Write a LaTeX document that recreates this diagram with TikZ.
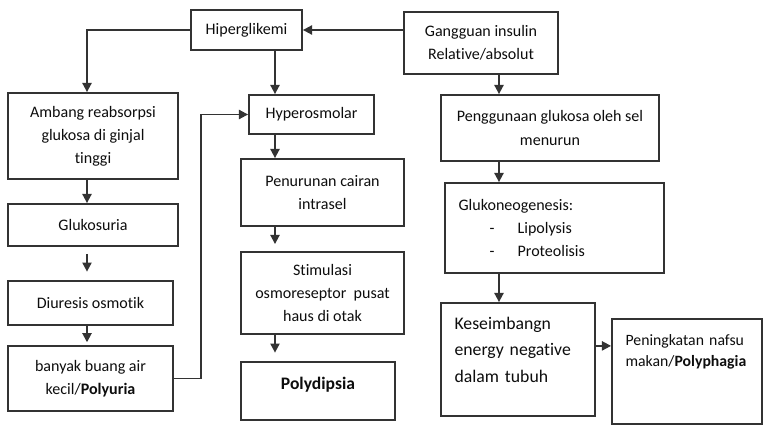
\documentclass[tikz,border=0pt]{standalone}
\usepackage{fontspec}
\setmainfont{Carlito}[RawFeature={-liga}]
\usepackage{xcolor}
\usetikzlibrary{
    arrows.meta,
    positioning
}

\begin{document}
\begin{tikzpicture}[
    font=\fontsize{11.4}{16.4}\selectfont,
    box/.style={
        rectangle,
        draw=black!80,
        line width=1.3pt,
        align=center,
        inner sep=2pt,
        text=black!95,
        fill=white
    },
    leftbox/.style={
        box,
        align=left,
        inner xsep=0.34cm
    },
    arrow/.style={
        -{Triangle[length=6.5pt,width=6.5pt]},
        line width=1.3pt,
        draw=black!80
    }
]

\useasboundingbox (0,0) rectangle (19.1,-10.625);

% =========================================================
% Top row
% =========================================================
\node[box, minimum width=2.775cm, minimum height=1.0cm] (hiper) at (6.1625,-0.75)
{Hiperglikemi};

\node[box, minimum width=3.85cm, minimum height=1.55cm] (gangguan) at (12.025,-1.075)
{Gangguan insulin\\Relative/absolut};

% =========================================================
% Left column: polyuria
% =========================================================
\node[box, minimum width=4.25cm, minimum height=2.15cm] (ambang) at (2.325,-3.4)
{Ambang reabsorpsi\\glukosa di ginjal\\tinggi};

\node[box, minimum width=4.25cm, minimum height=1.05cm] (glukosuria) at (2.325,-5.625)
{Glukosuria};

\node[box, minimum width=4.125cm, minimum height=1.1cm] (diuresis) at (2.2625,-7.575)
{Diuresis osmotik};

\node[box, minimum width=4.125cm, minimum height=1.625cm] (banyak) at (2.2625,-9.4625)
{banyak buang air\\kecil/\textbf{Polyuria}};

% =========================================================
% Middle column: polydipsia
% =========================================================
\node[box, minimum width=3.125cm, minimum height=0.975cm] (hyperos) at (7.7875,-2.8625)
{Hyperosmolar};

\node[box, minimum width=4.075cm, minimum height=1.675cm] (penurunan) at (8.0625,-4.8125)
{Penurunan cairan\\intrasel};

\node[box, minimum width=4.075cm, minimum height=2.05cm] (stimulasi) at (8.0625,-7.325)
{Stimulasi\\osmoreseptor\ \ pusat\\haus di otak};

\node[box, minimum width=3.85cm, minimum height=1.45cm,
      font=\fontsize{12.5}{16}\selectfont\bfseries] (polydipsia) at (7.95,-9.775)
{Polydipsia\rule[-11pt]{0pt}{11pt}};

% =========================================================
% Right column: polyphagia
% =========================================================
\node[box, minimum width=5.45cm, minimum height=1.65cm] (penggunaan) at (13.75,-3.2)
{Penggunaan glukosa oleh sel\\menurun};

\node[leftbox, text width=4.795cm, minimum height=2.25cm] (gluko) at (13.8625,-5.7)
{Glukoneogenesis:\\
 \makebox[42pt][l]{\hspace{22pt}-}Lipolysis\\
 \makebox[42pt][l]{\hspace{22pt}-}Proteolisis};

\node[leftbox, text width=3.17cm, minimum height=2.825cm,
      font=\fontsize{12.6}{19}\selectfont] (keseimb) at (12.95,-8.9875)
{Keseimbangn\\energy negative\\dalam tubuh\rule[-14pt]{0pt}{14pt}};

\node[leftbox, text width=3.07cm, minimum height=2.625cm,
      font=\fontsize{11.2}{15.4}\selectfont] (pening) at (17.175,-9.2875)
{Peningkatan nafsu\\makan/\textbf{Polyphagia}\rule[-30pt]{0pt}{30pt}};

% column lines for the arrows
\coordinate (leftx) at (2.175,0);
\coordinate (midx) at (6.875,0);
\coordinate (rightx) at (12.475,0);

% =========================================================
% Arrows
% =========================================================
\draw[arrow] (hiper.east -| gangguan.west) -- (hiper.east);
\draw[arrow] (hiper.west) -| (leftx |- ambang.north);
\draw[arrow] (hiper.south -| midx) -- (hyperos.north -| midx);

\draw[arrow] (ambang.south -| leftx) -- (glukosuria.north -| leftx);
\draw[arrow, shorten <=5pt, shorten >=6pt] (glukosuria.south -| leftx) -- (diuresis.north -| leftx);
\draw[arrow, shorten >=2pt] (diuresis.south -| leftx) -- (banyak.north -| leftx);
\draw[arrow] (banyak.east) -- ++(0.675,0) |- (hyperos.west);

\draw[arrow] (hyperos.south -| midx) -- (penurunan.north -| midx);
\draw[arrow, shorten >=5pt] (penurunan.south -| midx) -- (stimulasi.north -| midx);
\draw[arrow, shorten >=6pt] (stimulasi.south -| midx) -- (polydipsia.north -| midx);

\draw[arrow] (gangguan.south -| rightx) -- (penggunaan.north -| rightx);
\draw[arrow] (penggunaan.south -| rightx) -- (gluko.north -| rightx);
\draw[arrow] (gluko.south -| rightx) -- (keseimb.north -| rightx);
\draw[arrow] ([yshift=0.34cm]keseimb.east) -- ([yshift=0.34cm]keseimb.east -| pening.west);

\end{tikzpicture}
\end{document}
